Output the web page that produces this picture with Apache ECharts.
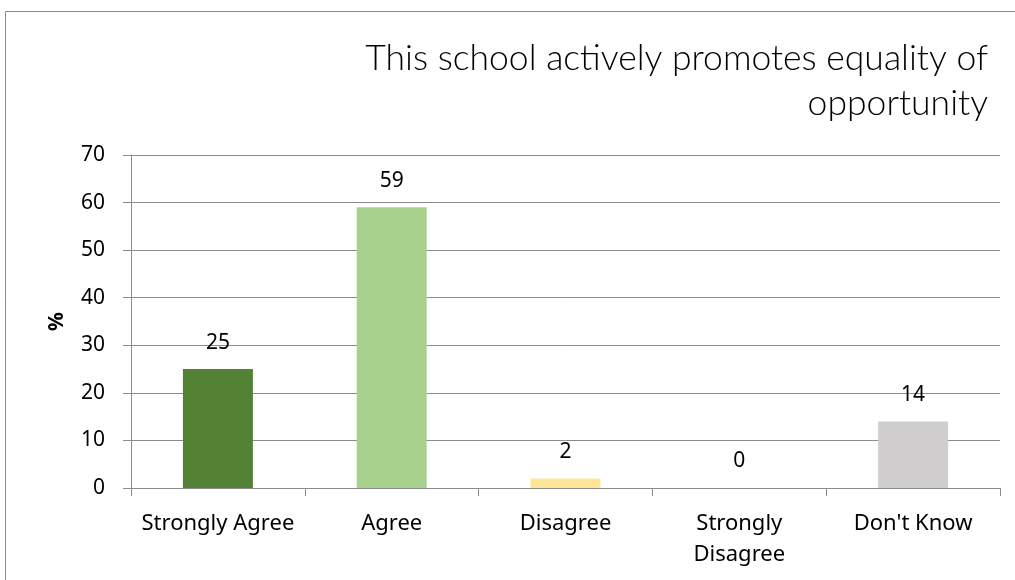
<!DOCTYPE html>
<html>
<head>
<meta charset="utf-8">
<script src="https://cdn.jsdelivr.net/npm/echarts@6/dist/echarts.min.js"></script>
<style>html,body{margin:0;padding:0;background:#fff}#c{width:1015px;height:580px}</style>
</head>
<body>
<div id="c"></div>
<script>
const categories = ['Strongly Agree', 'Agree', 'Disagree', 'Strongly\nDisagree', "Don't Know"];
const values = [25, 59, 2, 0, 14];
const barColors = ['#548235', '#A9D18E', '#FFE699', '#D9D9D9', '#D0CECE'];
const yTicks = [0, 70, 10];
const titleText = 'This school actively promotes equality of\nopportunity';

const chart = echarts.init(document.getElementById('c'));
const lab = { fontFamily: 'Noto Sans', fontSize: 21, color: '#000' };
chart.setOption({
  animation: false,
  graphic: [{
    type: 'rect', silent: true,
    shape: { x: 5.5, y: 11.5, width: 1200, height: 1000 },
    style: { fill: 'none', stroke: '#8c8c8c', lineWidth: 1 }
  }, {
    type: 'text', silent: true,
    x: 988, y: 36,
    style: {
      text: titleText, align: 'right', verticalAlign: 'top',
      fontFamily: 'Lato', fontWeight: 300, fontSize: 35.5, lineHeight: 45, fill: '#000'
    }
  }],
  grid: { left: 131, right: 15, top: 155, bottom: 92 },
  xAxis: {
    type: 'category',
    data: categories,
    axisLine: { lineStyle: { color: '#8c8c8c' } },
    axisTick: { show: true, length: 8, lineStyle: { color: '#8c8c8c' } },
    axisLabel: Object.assign({}, lab, { margin: 20, lineHeight: 31, interval: 0, fontSize: 22 })
  },
  yAxis: {
    type: 'value',
    min: yTicks[0], max: yTicks[1], interval: yTicks[2],
    name: '%',
    nameLocation: 'middle',
    nameRotate: 90,
    nameGap: 63,
    nameTextStyle: { fontFamily: 'Noto Sans', fontSize: 21, fontWeight: 'bold', color: '#000' },
    axisLine: { show: true, lineStyle: { color: '#8c8c8c' } },
    axisTick: { show: true, length: 8, lineStyle: { color: '#8c8c8c' } },
    splitLine: { lineStyle: { color: '#8c8c8c' } },
    axisLabel: Object.assign({ margin: 26 }, lab)
  },
  series: [{
    type: 'bar',
    barWidth: 70,
    data: values.map((v, i) => ({ value: v, itemStyle: { color: barColors[i] } })),
    label: Object.assign({ show: true, position: 'top', distance: 16 }, lab)
  }]
});
</script>
</body>
</html>
